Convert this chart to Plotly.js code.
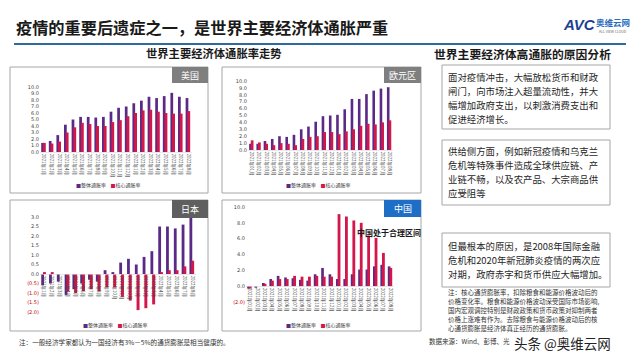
<!DOCTYPE html>
<html><head><meta charset="utf-8">
<script src="https://cdn.plot.ly/plotly-3.0.1.min.js"></script>
<style>body{margin:0;background:#fff}#c{width:640px;height:360px}</style>
</head><body><div id="c"></div><script>
// ---- data ----
const monthsShort = ["2021年1月","2021年2月","2021年3月","2021年4月","2021年5月","2021年6月","2021年7月","2021年8月","2021年9月","2021年10月","2021年11月","2021年12月","2022年1月","2022年2月","2022年3月","2022年4月","2022年5月","2022年6月","2022年7月","2022年8月"];
const monthsLong = ["2021年01月","2021年02月","2021年03月","2021年04月","2021年05月","2021年06月","2021年07月","2021年08月","2021年09月","2021年10月","2021年11月","2021年12月","2022年01月","2022年02月","2022年03月","2022年04月","2022年05月","2022年06月","2022年07月","2022年08月"];
const seriesNames = ["整体通胀率","核心通胀率"];
const usHeadline = [1.4,1.7,2.6,4.2,5.0,5.4,5.4,5.3,5.4,6.2,6.8,7.0,7.5,7.9,8.5,8.3,8.6,9.1,8.5,8.3];
const usCore     = [1.4,1.3,1.6,3.0,3.8,4.5,4.3,4.0,4.0,4.6,4.9,5.5,6.0,6.4,6.5,6.2,6.0,5.9,5.9,6.3];
const euHeadline = [0.9,0.9,1.3,1.6,2.0,1.9,2.2,3.0,3.4,4.1,4.9,5.0,5.1,5.9,7.4,7.4,8.1,8.6,8.9,9.1];
const euCore     = [1.4,1.1,0.9,0.7,1.0,0.9,0.7,1.6,1.9,2.0,2.6,2.6,2.3,2.7,3.0,3.5,3.8,3.7,4.0,4.3];
const jpHeadline = [-0.6,-0.5,-0.4,-1.1,-0.8,-0.5,-0.3,-0.4,0.2,0.1,0.6,0.8,0.5,0.9,1.2,2.5,2.5,2.4,2.6,3.0];
const jpCore     = [0.1,0.1,0.0,-0.9,-1.0,-0.9,-0.8,-0.9,-0.7,-0.7,-1.2,-1.4,-1.9,-1.8,-1.6,0.1,0.2,0.2,0.4,0.7];
const cnHeadline = [-0.3,-0.2,0.4,0.9,1.3,1.1,1.0,0.8,0.7,1.5,2.3,1.5,0.9,0.9,1.5,2.1,2.1,2.5,2.7,2.5];
const cnCore     = [-0.3,0.0,0.3,0.7,0.9,0.9,1.3,1.2,1.2,1.3,1.2,1.2,9.1,8.8,8.3,8.0,6.4,6.1,4.2,2.3];
const usTicks = [0,1,2,3,4,5,6,7,8,9,10];
const jpTicks = [-2,-1.5,-1,-0.5,0,0.5,1,1.5,2,2.5,3];
const cnTicks = [-2,0,2,4,6,8,10];
const panelLabels = ["美国","欧元区","日本","中国"];
const reasonLines1 = ["面对疫情冲击，大幅放松货币和财政","闸门，向市场注入超量流动性，并大","幅增加政府支出，以刺激消费支出和","促进经济增长。"];
const reasonLines2 = ["供给侧方面，例如新冠疫情和乌克兰","危机等特殊事件造成全球供应链、产","业链不畅，以及农产品、大宗商品供","应受阻等"];
const reasonLines3 = ["但最根本的原因，是2008年国际金融","危机和2020年新冠肺炎疫情的两次应","对期，政府赤字和货币供应大幅增加。"];
const noteLines = ["注：核心通货膨胀率，扣除粮食和能源价格波动后的","价格变化率。粮食和能源价格波动深受国际市场影响,","国内宏观调控特别是财政政策和货币政策对抑制两者","价格上涨难有作为。去除粮食与能源价格波动后的核","心通货膨胀是经济体真正经历的通货膨胀。"];

// ---- helpers ----
const W=640,H=360;
const px=x=>x/W, py=y=>1-y/H;
const PURPLE="#5b2a86", RED="#d3174a";
const FONT="Noto Sans CJK SC, Noto Sans, sans-serif";
function fmt(v){ return v<0 ? '<span style="color:#c00000">('+Math.abs(v).toFixed(1)+')</span>' : v.toFixed(1); }

const panels = [
 {x:monthsShort, a:usHeadline, b:usCore, xd:[40,192], yd:[152,87], range:[0,10], ticks:usTicks, zeroY:null},
 {x:monthsLong,  a:euHeadline, b:euCore, xd:[248,393], yd:[150,81], range:[0,10], ticks:usTicks, zeroY:null},
 {x:monthsShort, a:jpHeadline, b:jpCore, xd:[40,196], yd:[312,217], range:[-2,3], ticks:jpTicks, zeroY:274},
 {x:monthsLong,  a:cnHeadline, b:cnCore, xd:[246,394], yd:[302,207], range:[-2,10], ticks:cnTicks, zeroY:286.2}
];

const data=[]; const layout={
 width:W,height:H,margin:{l:0,r:0,t:0,b:0},paper_bgcolor:"#fff",plot_bgcolor:"rgba(0,0,0,0)",
 showlegend:false,barmode:"overlay",font:{family:FONT,color:"#333"},
 shapes:[],annotations:[]
};
panels.forEach((p,i)=>{
 const n=i===0?"":String(i+1);
 data.push({type:"bar",x:p.x,y:p.a,name:seriesNames[0],marker:{color:PURPLE},width:0.36,offset:-0.34,xaxis:"x"+n,yaxis:"y"+n,hoverinfo:"skip"});
 data.push({type:"bar",x:p.x,y:p.b,name:seriesNames[1],marker:{color:RED},width:0.38,offset:-0.12,xaxis:"x"+n,yaxis:"y"+n,hoverinfo:"skip"});
 const xa={domain:[px(p.xd[0]),px(p.xd[1])],type:"category",tickmode:"array",tickvals:p.x,ticktext:p.x,
   tickangle:90,tickfont:{size:4.5,color:"#404040",family:FONT},showgrid:false,zeroline:false,
   showline:true,linecolor:"#d9d9d9",linewidth:0.6,ticks:"",fixedrange:true};
 if(p.zeroY!==null){ xa.anchor="free"; xa.position=py(p.zeroY); } else { xa.anchor="y"+n; }
 const ya={domain:[py(p.yd[0]),py(p.yd[1])],range:p.range,tickmode:"array",tickvals:p.ticks,
   ticktext:p.ticks.map(fmt),tickfont:{size:5,color:"#404040",family:"DejaVu Sans, sans-serif"},
   showgrid:false,zeroline:false,showline:false,ticks:"",anchor:"x"+n,fixedrange:true};
 layout["xaxis"+n]=xa; layout["yaxis"+n]=ya;
});

// panel boxes
const boxes=[[10,67,208,193],[222,67,421,193],[10,200,208,331],[222,200,421,331]];
boxes.forEach(b=>layout.shapes.push({type:"rect",xref:"paper",yref:"paper",x0:px(b[0]),x1:px(b[2]),y0:py(b[3]),y1:py(b[1]),line:{color:"#a6a6a6",width:1},layer:"below"}));
// panel labels
const lab=[[172,67,208,83,"#7f7f7f"],[384,67,421,83,"#7f7f7f"],[172,200,208,218,"#5f5f5f"],[384,200,421,217,"#1e6ec8"]];
lab.forEach((l,i)=>{
 layout.shapes.push({type:"rect",xref:"paper",yref:"paper",x0:px(l[0]),x1:px(l[2]),y0:py(l[3]),y1:py(l[1]),fillcolor:l[4],line:{width:0}});
 layout.annotations.push({xref:"paper",yref:"paper",x:px((l[0]+l[2])/2),y:py((l[1]+l[3])/2),text:panelLabels[i],showarrow:false,font:{size:9,color:"#fff"},xanchor:"center",yanchor:"middle"});
});
// legends
[[108,185],[318,185],[115,325],[318,325]].forEach(c=>{
 layout.annotations.push({xref:"paper",yref:"paper",x:px(c[0]),y:py(c[1]),showarrow:false,xanchor:"center",yanchor:"middle",
  text:'<span style="color:'+PURPLE+'">■</span>'+seriesNames[0]+'    <span style="color:'+RED+'">■</span>'+seriesNames[1],font:{size:5,color:"#404040"}});
});
// title and header
layout.annotations.push({xref:"paper",yref:"paper",x:px(14),y:py(27),xanchor:"left",yanchor:"middle",showarrow:false,text:"<b>疫情的重要后遗症之一，是世界主要经济体通胀严重</b>",font:{size:16.2,color:"#1a1a1a"}});
layout.shapes.push({type:"line",xref:"paper",yref:"paper",x0:px(14),x1:px(626),y0:py(44),y1:py(44),line:{color:"#2c6aa0",width:2}});
layout.annotations.push({xref:"paper",yref:"paper",x:px(214),y:py(53),xanchor:"center",yanchor:"middle",showarrow:false,text:"<b>世界主要经济体通胀率走势</b>",font:{size:11.3,color:"#1a1a1a"}});
layout.annotations.push({xref:"paper",yref:"paper",x:px(522),y:py(53),xanchor:"center",yanchor:"middle",showarrow:false,text:"<b>世界主要经济体高通胀的原因分析</b>",font:{size:11.8,color:"#1a1a1a"}});
// logo
layout.annotations.push({xref:"paper",yref:"paper",x:px(561),y:py(25),xanchor:"left",yanchor:"middle",showarrow:false,text:"<b><i>AVC</i></b>",font:{size:15,color:"#1b3f8f",family:"Liberation Sans, Arial"}});
layout.annotations.push({xref:"paper",yref:"paper",x:px(594),y:py(22),xanchor:"left",yanchor:"middle",showarrow:false,text:"<b>奥维云网</b>",font:{size:8.5,color:"#2a6ebb"}});
layout.annotations.push({xref:"paper",yref:"paper",x:px(597),y:py(31),xanchor:"left",yanchor:"middle",showarrow:false,text:"ALL VIEW CLOUD",font:{size:3.5,color:"#666"}});
// China note
layout.annotations.push({xref:"paper",yref:"paper",x:px(389),y:py(232),xanchor:"center",yanchor:"middle",showarrow:false,text:"<b>中国处于合理区间</b>",font:{size:8,color:"#1a1a1a"}});
// right text boxes
const rb=[[442,65,610,129,reasonLines1,77],[442,140,610,205,reasonLines2,151],[442,233,610,287,reasonLines3,246]];
rb.forEach(r=>{
 layout.shapes.push({type:"rect",xref:"paper",yref:"paper",x0:px(r[0]),x1:px(r[2]),y0:py(r[3]),y1:py(r[1]),line:{color:"#a6a6a6",width:1}});
 r[4].forEach((t,k)=>layout.annotations.push({xref:"paper",yref:"paper",x:px(446),y:py(r[5]+k*14),xanchor:"left",yanchor:"middle",showarrow:false,text:t,font:{size:9.4,color:"#262626"}}));
});
noteLines.forEach((t,k)=>layout.annotations.push({xref:"paper",yref:"paper",x:px(446),y:py(292+k*9),xanchor:"left",yanchor:"middle",showarrow:false,text:t,font:{size:6.5,color:"#333"}}));
layout.annotations.push({xref:"paper",yref:"paper",x:px(427),y:py(341),xanchor:"left",yanchor:"middle",showarrow:false,text:"数据来源：Wind、彭博、光",font:{size:6.5,color:"#333"}});
layout.annotations.push({xref:"paper",yref:"paper",x:px(17),y:py(342),xanchor:"left",yanchor:"middle",showarrow:false,text:"注：一般经济学家都认为一国经济有3%－5%的通货膨胀是相当健康的。",font:{size:6.6,color:"#333"}});
layout.annotations.push({xref:"paper",yref:"paper",x:px(512),y:py(343),xanchor:"left",yanchor:"middle",showarrow:false,text:"头条 @奥维云网",font:{size:13.5,color:"#222"}});

Plotly.newPlot("c",data,layout,{staticPlot:true,displayModeBar:false});
</script></body></html>
